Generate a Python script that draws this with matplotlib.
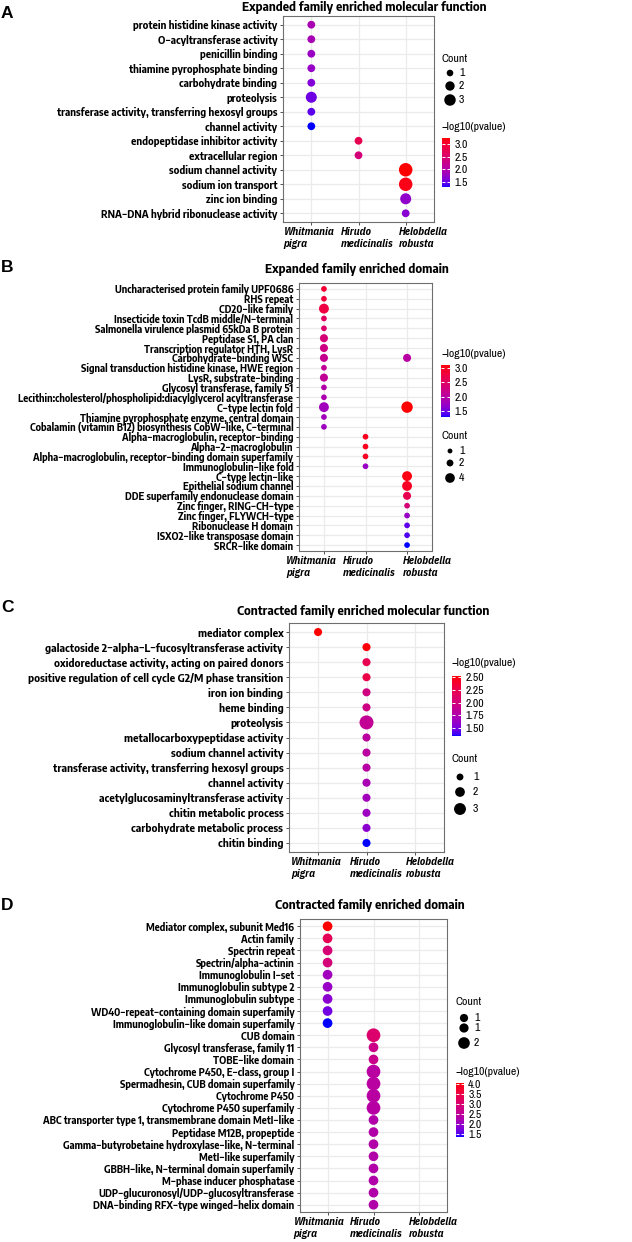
import numpy as np
import matplotlib
matplotlib.use("Agg")
import matplotlib.pyplot as plt
from matplotlib import font_manager as fm
from matplotlib.colors import ListedColormap, Normalize
from matplotlib.cm import ScalarMappable
from matplotlib.transforms import ScaledTranslation

# === FIGURE GEOMETRY (pixels) ===
W, H, DPI = 632, 1242, 100

# === DATA ===
SPECIES = ["Whitmania\npigra", "Hirudo\nmedicinalis", "Helobdella\nrobusta"]

# A: expanded family, molecular function
A_TERMS = ["protein histidine kinase activity", "O−acyltransferase activity",
           "penicillin binding", "thiamine pyrophosphate binding",
           "carbohydrate binding", "proteolysis",
           "transferase activity, transferring hexosyl groups", "channel activity",
           "endopeptidase inhibitor activity", "extracellular region",
           "sodium channel activity", "sodium ion transport", "zinc ion binding",
           "RNA−DNA hybrid ribonuclease activity"]
A_POINT_TERM = list(A_TERMS)
A_SPECIES = [0, 0, 0, 0, 0, 0, 0, 0, 1, 1, 2, 2, 2, 2]
A_LOGP = [1.92, 1.90, 1.78, 1.76, 1.62, 1.52, 1.45, 1.30, 2.75, 2.40, 3.24, 3.15, 1.72, 1.66]
A_COUNT = [1, 1, 1, 1, 1, 2, 1, 1, 1, 1, 3, 3, 2, 1]

# B: expanded family, domain
B_TERMS = ["Uncharacterised protein family UPF0686", "RHS repeat", "CD20−like family",
           "Insecticide toxin TcdB middle/N−terminal",
           "Salmonella virulence plasmid 65kDa B protein", "Peptidase S1, PA clan",
           "Transcription regulator HTH, LysR", "Carbohydrate−binding WSC",
           "Signal transduction histidine kinase, HWE region", "LysR, substrate−binding",
           "Glycosyl transferase, family 51",
           "Lecithin:cholesterol/phospholipid:diacylglycerol acyltransferase",
           "C−type lectin fold", "Thiamine pyrophosphate enzyme, central domain",
           "Cobalamin (vitamin B12) biosynthesis CobW−like, C−terminal",
           "Alpha−macroglobulin, receptor−binding", "Alpha−2−macroglobulin",
           "Alpha−macroglobulin, receptor−binding domain superfamily",
           "Immunoglobulin−like fold", "C−type lectin−like", "Epithelial sodium channel",
           "DDE superfamily endonuclease domain", "Zinc finger, RING−CH−type",
           "Zinc finger, FLYWCH−type", "Ribonuclease H domain",
           "ISXO2−like transposase domain", "SRCR−like domain"]
B_POINT_TERM = B_TERMS[:19] + ["Carbohydrate−binding WSC", "C−type lectin fold"] + B_TERMS[19:]
B_SPECIES = [0] * 15 + [1] * 4 + [2] * 10
B_LOGP = [2.85, 2.80, 2.75, 2.55, 2.45, 2.35, 2.25, 2.15, 2.10, 2.10, 1.95, 1.90, 1.80, 1.80, 1.78,
          3.00, 3.00, 2.95, 1.75,
          2.00, 3.10, 3.05, 2.95, 2.65, 2.35, 1.72, 1.45, 1.40, 1.30]
B_COUNT = [1, 1, 3, 1, 1, 2, 2, 2, 1, 2, 1, 1, 3, 1, 1,
           1, 1, 1, 1,
           2, 4, 3, 3, 2, 1, 1, 1, 1, 1]

# C: contracted family, molecular function
C_TERMS = ["mediator complex", "galactoside 2−alpha−L−fucosyltransferase activity",
           "oxidoreductase activity, acting on paired donors",
           "positive regulation of cell cycle G2/M phase transition", "iron ion binding",
           "heme binding", "proteolysis", "metallocarboxypeptidase activity",
           "sodium channel activity", "transferase activity, transferring hexosyl groups",
           "channel activity", "acetylglucosaminyltransferase activity",
           "chitin metabolic process", "carbohydrate metabolic process", "chitin binding"]
C_POINT_TERM = list(C_TERMS)
C_SPECIES = [0] + [1] * 14
C_LOGP = [2.52, 2.50, 2.22, 2.26, 1.98, 1.96, 1.88, 1.82, 1.82, 1.80, 1.72, 1.68, 1.66, 1.58, 1.35]
C_COUNT = [1, 1, 1, 1, 1, 1, 3, 1, 1, 1, 1, 1, 1, 1, 1]

# D: contracted family, domain
D_TERMS = ["Mediator complex, subunit Med16", "Actin family", "Spectrin repeat",
           "Spectrin/alpha−actinin", "Immunoglobulin I−set", "Immunoglobulin subtype 2",
           "Immunoglobulin subtype", "WD40−repeat−containing domain superfamily",
           "Immunoglobulin−like domain superfamily", "CUB domain",
           "Glycosyl transferase, family 11", "TOBE−like domain",
           "Cytochrome P450, E−class, group I", "Spermadhesin, CUB domain superfamily",
           "Cytochrome P450", "Cytochrome P450 superfamily",
           "ABC transporter type 1, transmembrane domain MetI−like",
           "Peptidase M12B, propeptide", "Gamma−butyrobetaine hydroxylase−like, N−terminal",
           "MetI−like superfamily", "GBBH−like, N−terminal domain superfamily",
           "M−phase inducer phosphatase", "UDP−glucuronosyl/UDP−glucosyltransferase",
           "DNA−binding RFX−type winged−helix domain"]
D_POINT_TERM = list(D_TERMS)
D_SPECIES = [0] * 9 + [1] * 15
D_LOGP = [4.05, 3.30, 2.95, 2.90, 2.10, 2.00, 1.88, 1.68, 1.35,
          3.05, 2.70, 2.68, 2.42, 2.42, 2.40, 2.38, 2.32, 2.32, 2.32, 2.32, 2.32, 2.32, 2.32, 2.32]
D_COUNT = [1] * 9 + [2, 1, 1, 2, 2, 2, 2] + [1] * 8

# legend breaks
A_SIZE_BREAKS, A_SIZE_LABELS = [1, 2, 3], ["1", "2", "3"]
B_SIZE_BREAKS, B_SIZE_LABELS = [1, 2, 4], ["1", "2", "4"]
C_SIZE_BREAKS, C_SIZE_LABELS = [1, 2, 3], ["1", "2", "3"]
D_SIZE_BREAKS, D_SIZE_LABELS = [1, 1.25, 2], ["1", "1", "2"]
A_CBAR_TICKS = [1.5, 2.0, 2.5, 3.0]
B_CBAR_TICKS = [1.5, 2.0, 2.5, 3.0]
C_CBAR_TICKS = [1.5, 1.75, 2.0, 2.25, 2.5]
D_CBAR_TICKS = [1.5, 2.0, 2.5, 3.0, 3.5, 4.0]


# === FONTS: pick a narrow grotesque if one is installed ===
def pick_family(cands, style="normal", weight=700):
    for c in cands:
        if any(f.name == c and f.style == style and abs(f.weight - weight) <= 100
               for f in fm.fontManager.ttflist):
            return [c, "DejaVu Sans"]
    return ["Liberation Sans", "DejaVu Sans"]


FAM_BOLD = pick_family(["Encode Sans Semi Condensed", "IBM Plex Sans Condensed",
                        "Fira Sans Condensed"], "normal", 700)
FAM_ITAL = pick_family(["IBM Plex Sans Condensed", "Fira Sans Condensed",
                        "Barlow Semi Condensed", "Encode Sans Semi Condensed"], "italic", 700)
FAM_REG = pick_family(["Archivo Narrow", "Encode Sans Semi Condensed",
                       "IBM Plex Sans Condensed"], "normal", 400)
plt.rcParams["font.family"] = FAM_BOLD


# === COLOURS: ggplot-style blue -> red ramp interpolated in CIELAB ===
WHITE = np.array([0.95047, 1.0, 1.08883])
M_RGB2XYZ = np.array([[0.4124, 0.3576, 0.1805],
                      [0.2126, 0.7152, 0.0722],
                      [0.0193, 0.1192, 0.9505]])


def rgb_to_lab(rgb):
    c = np.where(rgb <= 0.04045, rgb / 12.92, ((rgb + 0.055) / 1.055) ** 2.4)
    t = M_RGB2XYZ @ c / WHITE
    f = np.where(t > 0.008856, np.cbrt(t), 7.787 * t + 16 / 116)
    return np.array([116 * f[1] - 16, 500 * (f[0] - f[1]), 200 * (f[1] - f[2])])


def lab_to_rgb(lab):
    fy = (lab[0] + 16) / 116
    f = np.array([fy + lab[1] / 500, fy, fy - lab[2] / 200])
    t = np.where(f ** 3 > 0.008856, f ** 3, (f - 16 / 116) / 7.787) * WHITE
    c = np.linalg.solve(M_RGB2XYZ, t)
    c = np.where(c <= 0.0031308, 12.92 * c, 1.055 * np.clip(c, 0, None) ** (1 / 2.4) - 0.055)
    return np.clip(c, 0, 1)


lab_lo = rgb_to_lab(np.array([0.0, 0.0, 1.0]))
lab_hi = rgb_to_lab(np.array([1.0, 0.0, 0.0]))
CMAP = ListedColormap([lab_to_rgb(lab_lo + (lab_hi - lab_lo) * s) for s in np.linspace(0, 1, 256)])

# === LAYOUT (pixel boxes: x0, y0, x1, y1 from top-left; widths are target text widths) ===
PANELS = [
    dict(letter="A", title="Expanded family enriched molecular function",
         terms=A_TERMS, pterm=A_POINT_TERM, sp=A_SPECIES, logp=A_LOGP, count=A_COUNT,
         box=(283, 16, 434, 222), title_xy=(364, 7), title_w=246, letter_y=14, ylab_w=221,
         xoff=(-28, -18, -7), dmax=13.5,
         size_breaks=A_SIZE_BREAKS, size_labels=A_SIZE_LABELS,
         cnt_title=(442, 59), cnt_dot_x=450, cnt_lab_x=459, cnt_ys=(73, 86, 100),
         cb_title=(442, 127), cb_box=(442, 138, 450, 187),
         cb_ticks=A_CBAR_TICKS, cb_fmt="%.1f"),
    dict(letter="B", title="Expanded family enriched domain",
         terms=B_TERMS, pterm=B_POINT_TERM, sp=B_SPECIES, logp=B_LOGP, count=B_COUNT,
         box=(299, 283, 432, 551), title_xy=(357, 270), title_w=185, letter_y=267, ylab_w=277,
         xoff=(-38, -23, -4), dmax=11.4,
         size_breaks=B_SIZE_BREAKS, size_labels=B_SIZE_LABELS,
         cnt_title=(442, 436), cnt_dot_x=450, cnt_lab_x=459, cnt_ys=(451, 463, 478),
         cb_title=(442, 354), cb_box=(441, 365, 450, 417),
         cb_ticks=B_CBAR_TICKS, cb_fmt="%.1f"),
    dict(letter="C", title="Contracted family enriched molecular function",
         terms=C_TERMS, pterm=C_POINT_TERM, sp=C_SPECIES, logp=C_LOGP, count=C_COUNT,
         box=(289, 623, 444, 852), title_xy=(363, 611), title_w=253, letter_y=608, ylab_w=254,
         xoff=(-27, -17, -9), dmax=14.0,
         size_breaks=C_SIZE_BREAKS, size_labels=C_SIZE_LABELS,
         cnt_title=(452, 759), cnt_dot_x=460, cnt_lab_x=473, cnt_ys=(777, 792, 809),
         cb_title=(452, 663), cb_box=(452, 676, 461, 736),
         cb_ticks=C_CBAR_TICKS, cb_fmt="%.2f"),
    dict(letter="D", title="Contracted family enriched domain",
         terms=D_TERMS, pterm=D_POINT_TERM, sp=D_SPECIES, logp=D_LOGP, count=D_COUNT,
         box=(300, 919, 447, 1212), title_xy=(370, 906), title_w=191, letter_y=905, ylab_w=254,
         xoff=(-34, -24, -11), dmax=13.7,
         size_breaks=D_SIZE_BREAKS, size_labels=D_SIZE_LABELS,
         cnt_title=(456, 1002), cnt_dot_x=464, cnt_lab_x=474, cnt_ys=(1018, 1028, 1043),
         cb_title=(456, 1072), cb_box=(456, 1083, 464, 1137),
         cb_ticks=D_CBAR_TICKS, cb_fmt="%.1f"),
]


def px_rect(x0, y0, x1, y1):
    return [x0 / W, 1 - y1 / H, (x1 - x0) / W, (y1 - y0) / H]


def marker_area(count, maxc, dmax):
    # area proportional to count (scale_size_area style), diameter in px -> points^2
    d_px = dmax * np.sqrt(np.asarray(count, float) / maxc)
    return (d_px * 72 / DPI) ** 2


fig = plt.figure(figsize=(W / DPI, H / DPI), dpi=DPI)
RENDERER = fig.canvas.get_renderer()


def fit_size(texts, target_px, **kw):
    # font size at which the widest of the texts spans target_px
    base, widest = 10.0, 0.0
    for s in texts:
        t = fig.text(0, 0, s, fontsize=base, **kw)
        widest = max(widest, t.get_window_extent(RENDERER).width)
        t.remove()
    return base * target_px / widest


XLAB_SIZE = fit_size(["Hirudo\nmedicinalis"], 53, family=FAM_ITAL, weight="bold", style="italic")
LEG_SIZE = fit_size(["−log10(pvalue)"], 64, family=FAM_REG)

over = fig.add_axes([0, 0, 1, 1])
over.set_xlim(0, W)
over.set_ylim(H, 0)
over.axis("off")

for p in PANELS:
    ax = fig.add_axes(px_rect(*p["box"]))
    rows = [p["terms"].index(t) for t in p["pterm"]]
    maxc = max(p["count"])
    norm = Normalize(min(p["logp"]), max(p["logp"]))
    ax.scatter(p["sp"], rows, s=marker_area(p["count"], maxc, p["dmax"]),
               c=p["logp"], cmap=CMAP, norm=norm, edgecolors="none", zorder=3)

    ax.set_xlim(-0.6, len(SPECIES) - 0.4)
    ax.set_ylim(len(p["terms"]) - 0.4, -0.6)
    ax.tick_params(axis="both", length=2.5, width=0.6, color="#333333", labelcolor="black")
    ax.tick_params(axis="y", pad=1.6)
    ax.tick_params(axis="x", pad=1.0)
    ysize = fit_size(p["terms"], p["ylab_w"], family=FAM_BOLD, weight="bold")
    ax.set_yticks(range(len(p["terms"])))
    ax.set_yticklabels(p["terms"], fontsize=ysize, fontweight="bold", family=FAM_BOLD)
    ax.set_xticks(range(len(SPECIES)))
    ax.set_xticklabels(SPECIES, fontsize=XLAB_SIZE, fontweight="bold", style="italic",
                       family=FAM_ITAL, ha="left", multialignment="left", linespacing=1.3)
    for lab, dx in zip(ax.get_xticklabels(), p["xoff"]):
        lab.set_transform(lab.get_transform() + ScaledTranslation(dx / DPI, 0, fig.dpi_scale_trans))
    ax.grid(True, color="#EBEBEB", linewidth=0.9)
    ax.set_axisbelow(True)
    for s in ax.spines.values():
        s.set_color("#6E6E6E")
        s.set_linewidth(0.8)

    # titles and panel letters
    tsize = fit_size([p["title"]], p["title_w"], family=FAM_BOLD, weight="bold")
    over.text(*p["title_xy"], p["title"], ha="center", va="center",
              fontsize=tsize, fontweight="bold", family=FAM_BOLD)
    over.text(1, p["letter_y"], p["letter"], ha="left", va="center",
              fontsize=12.5, fontweight="bold", family=["Liberation Sans", "DejaVu Sans"])

    # size legend
    over.text(*p["cnt_title"], "Count", ha="left", va="center", fontsize=LEG_SIZE, family=FAM_REG)
    leg_s = marker_area(p["size_breaks"], maxc, p["dmax"] * 0.85)
    over.scatter([p["cnt_dot_x"]] * len(p["size_breaks"]), p["cnt_ys"], s=leg_s,
                 c="black", edgecolors="none")
    for y, lab in zip(p["cnt_ys"], p["size_labels"]):
        over.text(p["cnt_lab_x"], y, lab, ha="left", va="center", fontsize=LEG_SIZE, family=FAM_REG)

    # colour bar
    over.text(*p["cb_title"], "−log10(pvalue)", ha="left", va="center",
              fontsize=LEG_SIZE, family=FAM_REG)
    cax = fig.add_axes(px_rect(*p["cb_box"]))
    cb = fig.colorbar(ScalarMappable(norm=norm, cmap=CMAP), cax=cax, ticks=p["cb_ticks"])
    cb.outline.set_visible(False)
    cax.yaxis.set_ticks_position("both")
    cax.tick_params(direction="in", length=2, width=0.7, color="white",
                    labelleft=False, labelright=True, pad=3)
    cax.set_yticklabels([p["cb_fmt"] % t for t in p["cb_ticks"]], fontsize=LEG_SIZE, family=FAM_REG)

fig.savefig("out.png", dpi=DPI)
